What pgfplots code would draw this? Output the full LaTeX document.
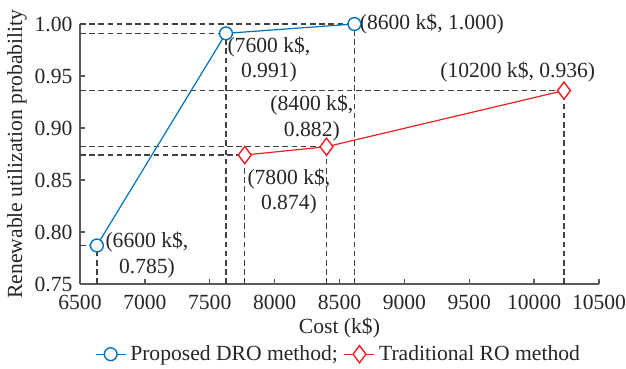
\documentclass[border=0pt]{standalone}
\usepackage{pgfplots}
\pgfplotsset{compat=1.18}
\usepackage{fontspec}
\setmainfont{Liberation Serif}
\definecolor{droblue}{RGB}{0,114,189}
\definecolor{rored}{RGB}{240,30,35}
\newcommand{\ff}{\fontsize{10.8}{12.6}\selectfont}
\begin{document}
\ff
\begin{tikzpicture}
\path[use as bounding box] (-40pt,-42.5pt) rectangle (273pt,142pt);
\begin{axis}[
  at={(0pt,0pt)}, anchor=south west,
  scale only axis,
  width=259.5pt, height=130pt,
  xmin=6500, xmax=10500, ymin=0.75, ymax=1.0,
  axis lines*=left,
  axis line style={black!65, line width=0.7pt},
  tick style={black!65, line width=0.7pt},
  tick align=inside,
  major tick length=2.5pt,
  xtick={6500,7000,...,10500},
  ytick={0.75,0.80,...,1.0},
  scaled x ticks=false,
  /pgf/number format/assume math mode=true,
  /pgf/number format/1000 sep={},
  yticklabel={\pgfmathprintnumber[fixed,fixed zerofill,precision=2]{\tick}},
  ticklabel style={font=\ff, text=black!85},
  xticklabel style={yshift=-2pt},
  xlabel={Cost (k\$)},
  ylabel={Renewable utilization probability},
  label style={font=\ff, text=black!85},
  ylabel style={yshift=-3.5pt},
  xlabel style={yshift=3.5pt},
  clip=false,
  legend style={draw=none, fill=none, at={(0.5,-0.27)}, anchor=center, legend columns=2,
    inner sep=1pt,
    font=\ff, text=black!85,
    /tikz/every even column/.append style={column sep=1pt}},
  legend image code/.code={\draw[mark repeat=2,mark phase=2] plot coordinates {(0pt,0pt) (7.5pt,0pt) (15pt,0pt)};},
]
% dashed guide lines
\pgfplotsset{guide/.style={black!75, line width=0.65pt, dash pattern=on 2.8pt off 1.8pt, forget plot}}
\addplot[guide] coordinates {(6500,0.787) (6630,0.787)};
\addplot[guide] coordinates {(6630,0.75) (6630,0.787)};
\addplot[guide] coordinates {(6500,0.991) (7625,0.991)};
\addplot[guide] coordinates {(7625,0.75) (7625,0.991)};
\addplot[guide] coordinates {(6500,1.0) (8615,1.0)};
\addplot[guide] coordinates {(8615,0.75) (8615,1.0)};
\addplot[guide] coordinates {(6500,0.874) (7770,0.874)};
\addplot[guide] coordinates {(7770,0.75) (7770,0.874)};
\addplot[guide] coordinates {(6500,0.882) (8400,0.882)};
\addplot[guide] coordinates {(8400,0.75) (8400,0.882)};
\addplot[guide] coordinates {(6500,0.936) (10230,0.936)};
\addplot[guide] coordinates {(10230,0.75) (10230,0.936)};
% data
\addplot[droblue, line width=0.6pt, mark=*, mark size=3.2pt,
  mark options={fill=white, draw=droblue, line width=0.7pt}]
  coordinates {(6630,0.787) (7625,0.991) (8615,1.0)};
\addlegendentry{Proposed DRO method;}
\addplot[rored, line width=0.6pt, mark=diamond*, mark size=4.3pt,
  mark options={fill=white, draw=rored, line width=0.7pt}]
  coordinates {(7770,0.874) (8400,0.882) (10230,0.936)};
\addlegendentry{Traditional RO method}
% annotations
\begin{scope}[every node/.style={align=center, text=black!85, font=\ff, inner sep=0pt}]
\node at (axis cs:9212,1.0) {(8600 k\$, 1.000)};
\node at (axis cs:7956,0.9659) {(7600 k\$,\\0.991)};
\node at (axis cs:9874,0.954) {(10200 k\$, 0.936)};
\node at (axis cs:8287,0.9096) {(8400 k\$,\\0.882)};
\node at (axis cs:8110,0.839) {(7800 k\$,\\0.874)};
\node at (axis cs:7016,0.778) {(6600 k\$,\\0.785)};
\end{scope}
\end{axis}
\end{tikzpicture}
\end{document}
